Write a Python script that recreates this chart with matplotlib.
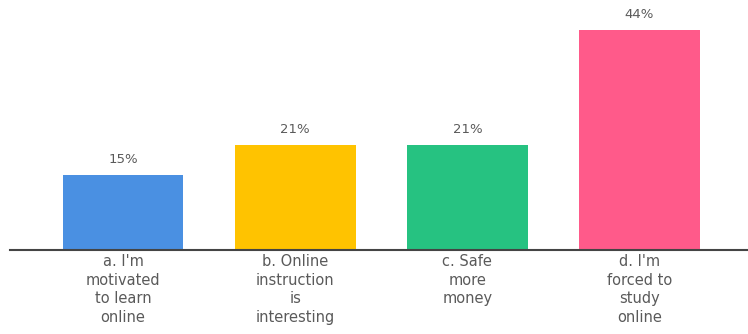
import numpy as np
import matplotlib.pyplot as plt

# data
categories = ["a. I'm\nmotivated\nto learn\nonline",
              "b. Online\ninstruction\nis\ninteresting",
              "c. Safe\nmore\nmoney",
              "d. I'm\nforced to\nstudy\nonline"]
values = [15, 21, 21, 44]
colors = ["#4a90e2", "#ffc300", "#26c281", "#ff5a8a"]

plt.rcParams['font.family'] = ['DejaVu Sans']

fig = plt.figure(figsize=(7.48, 3.34), dpi=100)
ax = fig.add_axes([10/748, 84/334, 738/748, 250/334])

x = np.arange(len(values))
bars = ax.bar(x, values, width=0.70, color=colors)

for xi, v in zip(x, values):
    ax.text(xi, v + 1.8, f"{v}%", ha='center', va='bottom', fontsize=9.5, color='#5a5a5a')

ax.set_xlim(-0.657, 3.63)
ax.set_ylim(0, 50)
ax.set_xticks(x)
ax.set_xticklabels(categories, fontsize=10.5, color='#5a5a5a', linespacing=1.3)
ax.tick_params(axis='x', length=0, pad=3)
ax.set_yticks([])
for s in ['top', 'right', 'left']:
    ax.spines[s].set_visible(False)
ax.spines['bottom'].set_color('#444444')
ax.spines['bottom'].set_linewidth(1.5)

fig.savefig('out.png', dpi=100)
